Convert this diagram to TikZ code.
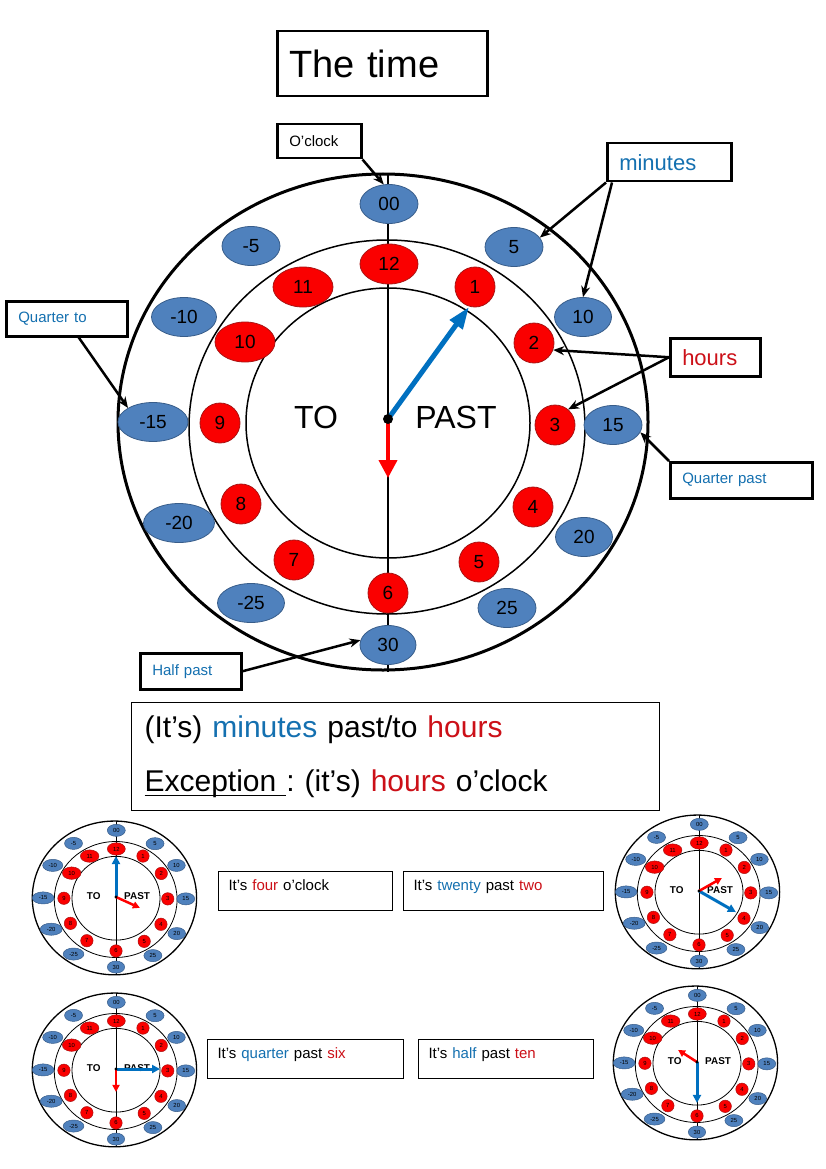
\documentclass[tikz,border=0pt]{standalone}
\usepackage{fontspec}
\setmainfont{Liberation Sans}
\usetikzlibrary{shapes.geometric, arrows.meta}

\definecolor{minfill}{RGB}{79,129,189}
\definecolor{minedge}{RGB}{56,93,138}
\definecolor{hourfill}{RGB}{250,0,0}
\definecolor{houredge}{RGB}{170,20,20}
\definecolor{minblue}{RGB}{20,112,176}
\definecolor{hourred}{RGB}{204,16,24}
\definecolor{handblue}{RGB}{0,112,192}

\newcommand{\fs}[1]{\fontsize{#1}{#1}\selectfont}
\newcommand{\ulword}[1]{\leavevmode\setbox0\hbox{#1}\rlap{\rule[-5pt]{\wd0}{1.8pt}}\box0}

% one clock face, all names start with #1
\newcommand{\clockface}[1]{%
	% axis and rings
	\coordinate (#1top) at (0,-244);
	\coordinate (#1bot) at (0,253);
	\draw[axis] (#1top) -- (#1bot);
	\draw[ringout] (-5,3) ellipse [x radius=265, y radius=248];
	\draw[ringin] (-1,8) ellipse [x radius=198, y radius=187];
	\draw[ringin] (0,4) ellipse [x radius=142, y radius=135];
	% minutes (outer ring)
	\foreach \n/\x/\y/\w in {00/1/-215/58, 5/126/-172/58, 10/195/-102/57, 15/225/6/58,
		20/196/118/57, 25/119/189/58, 30/0/226/56, -25/-137/184/67,
		-20/-209/104/71, -15/-235/3/70, -10/-204/-102/65, -5/-137/-173/58}
		\node[minute, minimum width=\w] (#1m\n) at (\x,\y) {\n};
	% hours (inner ring)
	\foreach \n/\x/\y/\w in {12/1/-155/58, 1/87/-132/40, 2/146/-76/40, 3/167/6/40,
		4/145/88/40, 5/91/143/40, 6/0/174/40, 7/-94/141/40,
		8/-147/85/40, 9/-168/4/40, 10/-143/-77/60, 11/-85/-132/60}
		\node[hour, minimum width=\w] (#1h\n) at (\x,\y) {\n};
	% the two halves
	\node[side] (#1to) at (-72,-2) {TO};
	\node[side] (#1past) at (68,-2) {PAST};
	\coordinate (#1c) at (0,0);
}

\begin{document}
\begin{tikzpicture}[x=1pt, y=-1pt,
	axis/.style={line width=2.5},
	ringout/.style={line width=3},
	ringin/.style={line width=1.5},
	minute/.style={ellipse, draw=minedge, fill=minfill, line width=0.8, minimum height=39, inner sep=0pt, font=\fs{19}},
	hour/.style={ellipse, draw=houredge, fill=hourfill, line width=0.8, minimum height=40, inner sep=0pt, font=\fs{19}},
	side/.style={font=\fs{32}},
	minhand/.style={draw=handblue, line width=5, -{Triangle[length=22pt, width=15pt]}},
	hourhand/.style={draw=red, line width=4, -{Triangle[length=18pt, width=18pt]}},
	smallmin/.style={draw=handblue, line width=3, -{Triangle[length=8pt, width=8pt]}},
	smallhour/.style={draw=red, line width=2.5, -{Triangle[length=7pt, width=7pt]}},
	smallclock/.style={scale=0.31, transform shape,
		axis/.style={line width=0.8}, ringout/.style={line width=1.3}, ringin/.style={line width=0.8},
		minute/.append style={line width=0.5}, hour/.append style={line width=0.5},
		side/.style={font=\fs{32}\bfseries}},
	callout/.style={draw, line width=2.5, anchor=north west, inner xsep=12pt, inner ysep=0pt, align=left},
	answer/.style={draw, line width=1, anchor=north west, inner xsep=10pt, inner ysep=8pt,
		text height=11pt, text depth=12pt, align=left, font=\fs{15}},
	pointer/.style={line width=2.5, -{Stealth[length=11pt, width=9pt]}}]

	\path[fill=white, use as bounding box] (0,0) rectangle (826,1169);

	% Title
	\node[callout, text width=186, minimum height=65, font=\fs{38}] (title) at (276,30) {The time};

	% Big clock
	\begin{scope}[shift={(388,419)}]
		\clockface{big}
		\coordinate (bigmin) at (81,-112);
		\coordinate (bighr) at (0,59);
		\draw[minhand] (bigc) -- (bigmin);
		\draw[hourhand] (bigc) -- (bighr);
		\fill (bigc) circle [radius=5];
	\end{scope}

	% Callouts
	\node[callout, text width=60, minimum height=34, font=\fs{15}] (oclock) at (276,123) {O’clock};
	\node[callout, text width=100, minimum height=38, font=\fs{22}, text=minblue] (minutes) at (606,142) {minutes};
	\node[callout, text width=66, minimum height=38, font=\fs{22}, text=hourred] (hours) at (669,337) {hours};
	\node[callout, text width=97, minimum height=35, font=\fs{15}, text=minblue] (qto) at (5,300) {Quarter to};
	\node[callout, text width=118, minimum height=36, font=\fs{15}, text=minblue] (qpast) at (669,461) {Quarter past};
	\node[callout, text width=77, minimum height=36, font=\fs{15}, text=minblue] (hpast) at (139,652) {Half past};

	\draw[pointer] (oclock.south east) -- (bigm00.105);
	\draw[pointer] (minutes.south west) -- (bigm5.20);
	\draw[pointer] ([xshift=6]minutes.south west) -- (bigm10.north);
	\draw[pointer] (hours.west) -- (bigh2.-20);
	\draw[pointer] (hours.west) -- (bigh3.50);
	\draw[pointer] ([xshift=12]qto.south) -- (bigm-15.north west);
	\draw[pointer] (qpast.north west) -- (bigm15.-15);
	\draw[pointer] (hpast.east) -- (bigm30.170);

	% Rule
	\node[draw, line width=1.2, anchor=north west, inner xsep=13pt, text width=502, minimum height=108,
		align=left, font=\fontsize{30}{54}\selectfont\frenchspacing] (rule) at (131,702)
		{(It’s) \textcolor{minblue}{minutes} past/to \textcolor{hourred}{hours}\\
		\ulword{Exception\ }: (it’s) \textcolor{hourred}{hours} o’clock};

	% Small clocks
	\begin{scope}[shift={(116,897)}, smallclock]
		\clockface{four}
		\coordinate (fourmin) at (0,-132);
		\coordinate (fourhr) at (77,35);
		\draw[smallmin] (fourc) -- (fourmin);
		\draw[smallhour] (fourc) -- (fourhr);
		\fill (fourc) circle [radius=5];
	\end{scope}

	\begin{scope}[shift={(699,891)}, smallclock]
		\clockface{twenty}
		\coordinate (twentymin) at (119,68);
		\coordinate (twentyhr) at (74,-42);
		\draw[smallmin] (twentyc) -- (twentymin);
		\draw[smallhour] (twentyc) -- (twentyhr);
		\fill (twentyc) circle [radius=5];
	\end{scope}

	\begin{scope}[shift={(116,1069)}, smallclock]
		\clockface{quarter}
		\coordinate (quartermin) at (142,0);
		\coordinate (quarterhr) at (0,74);
		\draw[smallmin] (quarterc) -- (quartermin);
		\draw[smallhour] (quarterc) -- (quarterhr);
		\fill (quarterc) circle [radius=5];
	\end{scope}

	\begin{scope}[shift={(697,1062)}, smallclock]
		\clockface{half}
		\coordinate (halfmin) at (0,132);
		\coordinate (halfhr) at (-61,-39);
		\draw[smallmin] (halfc) -- (halfmin);
		\draw[smallhour] (halfc) -- (halfhr);
		\fill (halfc) circle [radius=5];
	\end{scope}

	% Answers
	\node[answer, text width=154] (afour) at (218,871) {It’s \textcolor{hourred}{four} o’clock};
	\node[answer, text width=180] (atwenty) at (403,871) {It’s \textcolor{minblue}{twenty} past \textcolor{hourred}{two}};
	\node[answer, text width=176] (aquarter) at (207,1039) {It’s \textcolor{minblue}{quarter} past \textcolor{hourred}{six}};
	\node[answer, text width=155] (ahalf) at (418,1039) {It’s \textcolor{minblue}{half} past \textcolor{hourred}{ten}};
\end{tikzpicture}
\end{document}
